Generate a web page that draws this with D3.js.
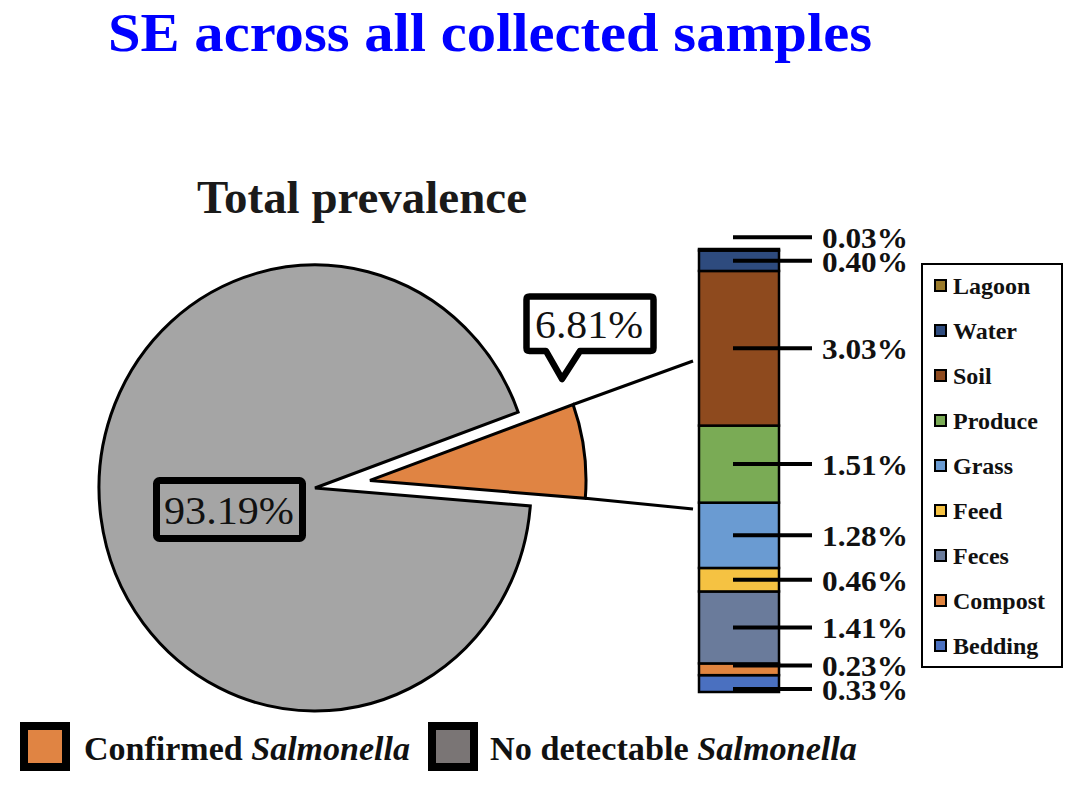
<!DOCTYPE html>
<html><head><meta charset="utf-8">
<script src="https://cdn.jsdelivr.net/npm/d3@7"></script>
<style>body{margin:0;background:#fff}svg{display:block}</style>
</head><body>
<svg id="c" width="1076" height="788" font-family="'Liberation Serif', Tinos, 'Times New Roman', Times, serif"></svg>
<script>
// ---------- data ----------
const pieCategories = ["Confirmed Salmonella", "No detectable Salmonella"];
const pieValues = [6.81, 93.19];
const pieLabels = ["6.81%", "93.19%"];
const pieColors = ["#E08443", "#A5A5A5"];
const pieLegendColors = ["#E08443", "#7A7575"];

const sampleTypes  = ["Bedding", "Compost", "Feces", "Feed", "Grass", "Produce", "Soil", "Water", "Lagoon"];
const sampleValues = [0.33, 0.23, 1.41, 0.46, 1.28, 1.51, 3.03, 0.40, 0.03];
const sampleLabels = ["0.33%", "0.23%", "1.41%", "0.46%", "1.28%", "1.51%", "3.03%", "0.40%", "0.03%"];
const sampleColors = ["#4A70C0", "#E0843F", "#6A7B9B", "#F5C242", "#6A9BD2", "#7AAB55", "#8E4A1E", "#2E4B7E", "#9A7A2A"];
const legendOrder  = ["Lagoon", "Water", "Soil", "Produce", "Grass", "Feed", "Feces", "Compost", "Bedding"];

const title = "SE across all collected samples";
const subTitle = "Total prevalence";

// ---------- layout ----------
const svg = d3.select("#c");
function fit(t, w) {
  t.attr("textLength", w).attr("lengthAdjust", "spacingAndGlyphs");
  return t;
}

fit(svg.append("text").attr("x", 108).attr("y", 51).attr("font-size", 55).attr("font-weight", "bold")
  .attr("fill", "#0000FF").text(title), 764);

fit(svg.append("text").attr("x", 197).attr("y", 213).attr("font-size", 47).attr("font-weight", "bold")
  .attr("fill", "#1a1a1a").text(subTitle), 330);

// ---------- pie ----------
const cx = 315, cy = 488, r = 216, k = 223 / 216;
const a0 = 70.1 * Math.PI / 180;
const pie = d3.pie().sort(null).startAngle(a0).endAngle(a0 + 2 * Math.PI);
const arcs = pie(pieValues);
const arc = d3.arc().innerRadius(0).outerRadius(r);
const explode = 55.5;

const pieG = svg.append("g");
arcs.forEach((d, i) => {
  const mid = (d.startAngle + d.endAngle) / 2;
  const off = i === 0 ? explode : 0;
  const ox = off * Math.sin(mid), oy = -off * Math.cos(mid);
  pieG.append("path")
    .attr("transform", `translate(${cx + ox},${cy + oy * k}) scale(1,${k})`)
    .attr("d", arc(d))
    .attr("fill", pieColors[i])
    .attr("stroke", "#000").attr("stroke-width", 3)
    .attr("stroke-linejoin", "miter")
    .attr("vector-effect", "non-scaling-stroke");
});

const o = arcs[0];
const omid = (o.startAngle + o.endAngle) / 2;
const oox = explode * Math.sin(omid), ooy = -explode * Math.cos(omid);
function corner(a) {
  return [cx + oox + r * Math.sin(a), cy + k * (ooy - r * Math.cos(a))];
}

// ---------- stacked bar ----------
const barX = 699, barW = 80, barTop = 249, barBottom = 692;
const y = d3.scaleLinear().domain([0, d3.sum(sampleValues)]).range([barBottom, barTop]);
let cum = 0;
const segs = sampleValues.map((v, i) => {
  const s = { name: sampleTypes[i], v, lab: sampleLabels[i], color: sampleColors[i], y0: cum, y1: cum + v };
  cum += v; return s;
});

const c1 = corner(o.startAngle), c2 = corner(o.endAngle);
svg.append("line").attr("x1", c1[0]).attr("y1", c1[1]).attr("x2", barX - 6).attr("y2", 361)
  .attr("stroke", "#000").attr("stroke-width", 3);
svg.append("line").attr("x1", c2[0]).attr("y1", c2[1]).attr("x2", barX - 6).attr("y2", 509)
  .attr("stroke", "#000").attr("stroke-width", 3);

svg.append("g").selectAll("rect").data(segs).join("rect")
  .attr("x", barX).attr("width", barW)
  .attr("y", d => y(d.y1)).attr("height", d => y(d.y0) - y(d.y1))
  .attr("fill", d => d.color).attr("stroke", "#000").attr("stroke-width", 2.5);

const minGap = 23.5;
const labY = segs.map(d => y((d.y0 + d.y1) / 2));
for (let i = 1; i < labY.length; i++) {
  if (labY[i - 1] - labY[i] < minGap) {
    const need = minGap - (labY[i - 1] - labY[i]);
    if (i === 1) { labY[0] += need * 0.6; labY[1] -= need * 0.4; }
    else labY[i] -= need;
  }
}
const lg = svg.append("g");
segs.forEach((d, i) => {
  lg.append("line").attr("x1", 733).attr("x2", 812).attr("y1", labY[i]).attr("y2", labY[i])
    .attr("stroke", "#000").attr("stroke-width", 4);
  fit(lg.append("text").attr("x", 822).attr("y", labY[i]).attr("dy", "0.36em")
    .attr("font-size", 30).attr("font-weight", "bold").attr("fill", "#111").text(d.lab), 86);
});

// ---------- pie labels ----------
svg.append("rect").attr("x", 156.5).attr("y", 480.5).attr("width", 146).attr("height", 58).attr("rx", 3)
  .attr("fill", "none").attr("stroke", "#000").attr("stroke-width", 7);
fit(svg.append("text").attr("x", 164).attr("y", 510).attr("dy", "0.35em")
  .attr("font-size", 41).attr("fill", "#111").text(pieLabels[1]), 130);

const bx0 = 526.5, by0 = 296.5, bx1 = 653.5, by1 = 351, rr = 3;
const callout = `M${bx0 + rr},${by0} H${bx1 - rr} Q${bx1},${by0} ${bx1},${by0 + rr} V${by1 - rr} Q${bx1},${by1} ${bx1 - rr},${by1}
  H580 L562,379 L546,${by1} H${bx0 + rr} Q${bx0},${by1} ${bx0},${by1 - rr} V${by0 + rr} Q${bx0},${by0} ${bx0 + rr},${by0} Z`;
svg.append("path").attr("d", callout).attr("fill", "#fff").attr("stroke", "#000")
  .attr("stroke-width", 6.5).attr("stroke-linejoin", "round");
fit(svg.append("text").attr("x", 535).attr("y", 324).attr("dy", "0.35em")
  .attr("font-size", 41).attr("fill", "#111").text(pieLabels[0]), 108);

// ---------- right legend ----------
svg.append("rect").attr("x", 922).attr("y", 264).attr("width", 140).attr("height", 403)
  .attr("fill", "#fff").attr("stroke", "#000").attr("stroke-width", 2);
const colorOf = Object.fromEntries(sampleTypes.map((t, i) => [t, sampleColors[i]]));
legendOrder.forEach((name, i) => {
  const yy = 286 + i * 45;
  svg.append("rect").attr("x", 935).attr("y", yy - 6).attr("width", 11).attr("height", 11)
    .attr("fill", colorOf[name]).attr("stroke", "#000").attr("stroke-width", 2);
  const t = svg.append("text").attr("x", 953).attr("y", yy).attr("dy", "0.35em")
    .attr("font-size", 24).attr("font-weight", "bold").attr("fill", "#111").text(name);
  if (t.node().getComputedTextLength() > 102) fit(t, 102);
});

// ---------- bottom legend ----------
const bottomX = [20, 428], textX = [84, 490], textLen = [326, 367];
pieCategories.forEach((cat, i) => {
  svg.append("rect").attr("x", bottomX[i] + 4).attr("y", 726).attr("width", 42).attr("height", 41)
    .attr("fill", pieLegendColors[i]).attr("stroke", "#000").attr("stroke-width", 8);
  const parts = cat.split(" Salmonella");
  const t = fit(svg.append("text").attr("x", textX[i]).attr("y", 760).attr("font-size", 34)
    .attr("font-weight", "bold").attr("fill", "#111"), textLen[i]);
  t.append("tspan").text(parts[0] + " ");
  t.append("tspan").attr("font-style", "italic").text("Salmonella");
});
</script>
</body></html>
